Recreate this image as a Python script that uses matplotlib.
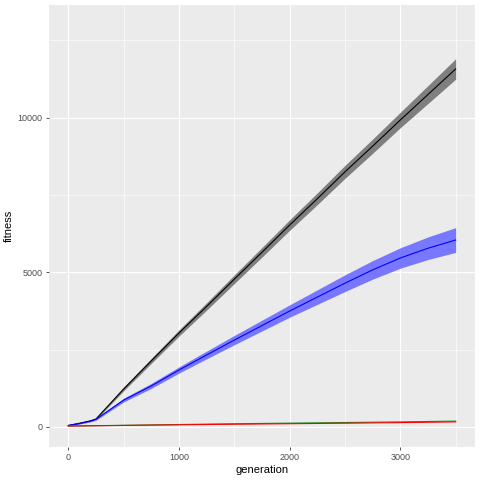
import numpy as np
import matplotlib.pyplot as plt

plt.rcParams['font.family'] = ['Liberation Sans', 'DejaVu Sans']

generation = [0, 100, 200, 250, 500, 750, 1000, 1250, 1500, 1750, 2000,
              2250, 2500, 2750, 3000, 3250, 3500]

black_mean = [50, 120, 200, 260, 1230, 2140, 3040, 3900, 4780, 5650, 6530,
              7380, 8250, 9080, 9926, 10750, 11575]
black_sd = [10, 15, 18, 20, 60, 80, 100, 120, 140, 155, 170,
            190, 210, 230, 250, 290, 330]

blue_mean = [50, 110, 190, 250, 870, 1330, 1843, 2330, 2810, 3280, 3750,
             4200, 4650, 5080, 5464, 5780, 6045]
blue_sd = [10, 15, 25, 30, 60, 80, 100, 125, 150, 175, 200,
           235, 270, 300, 330, 365, 400]

green_mean = [30, 35, 40, 42, 55, 68, 80, 92, 104, 115, 125,
              135, 145, 155, 165, 178, 190]
red_mean = [30, 34, 38, 40, 50, 60, 70, 80, 90, 98, 106,
            114, 122, 132, 142, 153, 165]

fig = plt.figure(figsize=(4.8, 4.8), dpi=100)
ax = fig.add_axes([49 / 480, 1 - 447 / 480, 426 / 480, 442 / 480])
ax.set_facecolor('#EBEBEB')

g = np.array(generation)
for mean, sd, fill, line in [(black_mean, black_sd, '#7f7f7f', 'black'),
                             (blue_mean, blue_sd, '#7878ff', 'blue')]:
    m = np.array(mean)
    s = np.array(sd)
    ax.fill_between(g, m - s, m + s, color=fill, lw=0, zorder=2)
    ax.plot(g, m, color=line, lw=0.8, zorder=3)

ax.plot(g, green_mean, color='#228B22', lw=0.8, zorder=3)
ax.plot(g, red_mean, color='red', lw=0.8, zorder=3)

ax.set_xlim(-175, 3675)
ax.set_ylim(-647, 13644)
ax.set_xticks([0, 1000, 2000, 3000])
ax.set_yticks([0, 5000, 10000])
ax.set_xticks([500, 1500, 2500, 3500], minor=True)
ax.set_yticks([2500, 7500, 12500], minor=True)

ax.grid(which='major', color='white', lw=0.8, zorder=0)
ax.grid(which='minor', color='white', lw=0.4, zorder=0)
ax.set_axisbelow(True)
for sp in ax.spines.values():
    sp.set_visible(False)

ax.tick_params(which='major', length=2.5, width=0.6, color='#333333',
               labelsize=6.5, labelcolor='#4D4D4D', pad=2)
ax.tick_params(which='minor', length=0)

ax.set_xlabel('generation', fontsize=8, labelpad=2)
ax.set_ylabel('fitness', fontsize=8, labelpad=3)

fig.savefig('out.png', dpi=100)
